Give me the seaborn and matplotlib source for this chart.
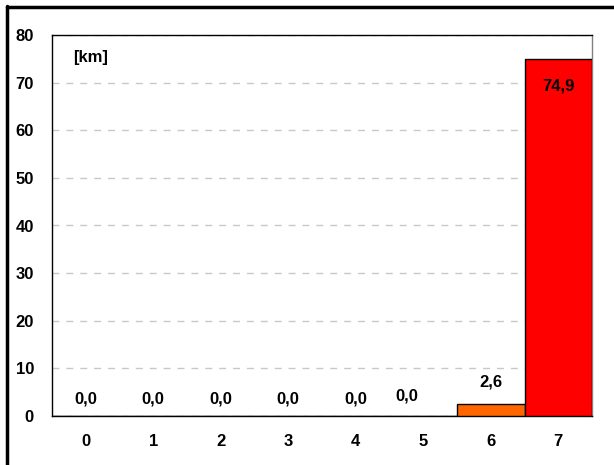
import pandas as pd
import matplotlib.pyplot as plt
import seaborn as sns
from matplotlib.lines import Line2D

categories = ["0", "1", "2", "3", "4", "5", "6", "7"]
values = [0.0, 0.0, 0.0, 0.0, 0.0, 0.0, 2.6, 74.9]
labels = ["0,0", "0,0", "0,0", "0,0", "0,0", "0,0", "2,6", "74,9"]
colors = ["#FF6600"] * 7 + ["#FF0000"]

df = pd.DataFrame({"cat": categories, "km": values})

sns.set_style("white")
plt.rcParams["font.family"] = ["Liberation Sans", "DejaVu Sans"]
plt.rcParams["font.weight"] = "bold"
plt.rcParams["text.color"] = "black"
plt.rcParams["xtick.color"] = "black"
plt.rcParams["ytick.color"] = "black"

fig = plt.figure(figsize=(6.14, 4.65), dpi=100)
ax = fig.add_axes([52 / 614, 1 - 416 / 465, 540 / 614, 381 / 465])

sns.barplot(data=df, x="cat", y="km", hue="cat", palette=colors, legend=False,
            saturation=1, width=1.0, edgecolor="black", linewidth=1.0, ax=ax, zorder=3)

ax.set_xlim(-0.5, 7.5)
ax.set_ylim(0, 80)
ax.set_yticks(range(0, 81, 10))
ax.yaxis.grid(True, color="#c8c8c8", linestyle=(0, (5, 5)), linewidth=1.0)
ax.set_axisbelow(True)
ax.set_xlabel("")
ax.set_ylabel("")
ax.tick_params(axis="both", length=0, labelsize=12, labelcolor="black")
ax.tick_params(axis="x", pad=13)
ax.tick_params(axis="y", pad=13)
for lab in ax.get_xticklabels() + ax.get_yticklabels():
    lab.set_fontweight("bold")
for s in ax.spines.values():
    s.set_visible(True)
    s.set_color("black")
    s.set_linewidth(1.0)
ax.spines["right"].set_color("#808080")

# value labels
for i, (v, t) in enumerate(zip(values, labels)):
    if v > 10:
        ax.text(i, v - 4, t, ha="center", va="top", fontsize=12, fontweight="bold")
    elif v > 0:
        ax.text(i, v + 3, t, ha="center", va="bottom", fontsize=12, fontweight="bold")
    elif i == 5:
        ax.text(i - 0.25, 2.6, t, ha="center", va="bottom", fontsize=12, fontweight="bold")
    else:
        ax.text(i, 2.0, t, ha="center", va="bottom", fontsize=12, fontweight="bold")

ax.text(0.04, 0.94, "[km]", transform=ax.transAxes, ha="left", va="center",
        fontsize=12, fontweight="bold")

# outer frame (top and left only visible)
fig.add_artist(Line2D([6.5 / 614, 1.0], [1 - 7.5 / 465, 1 - 7.5 / 465],
                      transform=fig.transFigure, color="black", linewidth=2.5))
fig.add_artist(Line2D([6.5 / 614, 6.5 / 614], [0.0, 1 - 6.5 / 465],
                      transform=fig.transFigure, color="black", linewidth=2.5))

fig.savefig("out.png", dpi=100)
